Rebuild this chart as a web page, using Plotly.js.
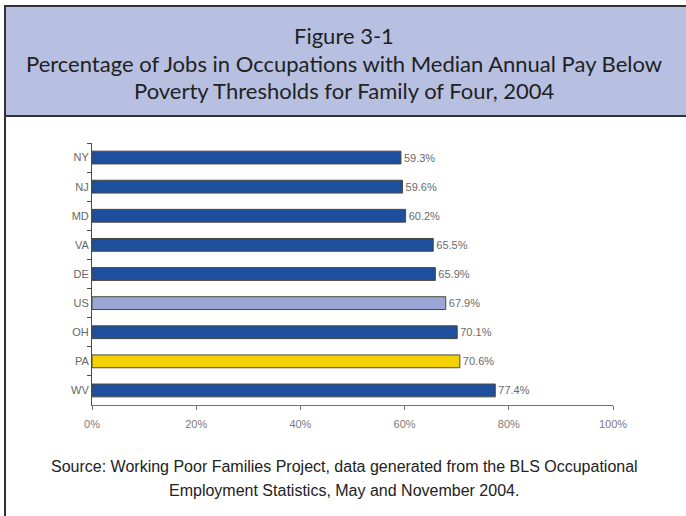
<!DOCTYPE html>
<html>
<head>
<meta charset="utf-8">
<script src="https://cdn.plot.ly/plotly-3.0.1.min.js"></script>
<style>
  html, body { margin: 0; padding: 0; background: #fff; }
  #chart { width: 686px; height: 516px; }
</style>
</head>
<body>
<div id="chart"></div>
<script>
// states, top to bottom
var states = ["NY", "NJ", "MD", "VA", "DE", "US", "OH", "PA", "WV"];
var pctBelow = [59.3, 59.6, 60.2, 65.5, 65.9, 67.9, 70.1, 70.6, 77.4];
var barColors = ["#1d4f9e", "#1d4f9e", "#1d4f9e", "#1d4f9e", "#1d4f9e", "#9ba6d6", "#1d4f9e", "#f6d100", "#1d4f9e"];
var xTicks = [0, 20, 40, 60, 80, 100];
var xTickText = ["0%", "20%", "40%", "60%", "80%", "100%"];

var W = 686, H = 516;
function px(x) { return x / W; }
function py(y) { return 1 - y / H; }

var trace = {
  type: "bar",
  orientation: "h",
  y: states,
  x: pctBelow,
  width: 0.44,
  marker: { color: barColors, line: { color: "#4a4a3a", width: 1 } },
  text: pctBelow.map(v => v.toFixed(1) + "%"),
  textposition: "outside",
  textfont: { family: "Liberation Sans, Arial, sans-serif", size: 11, color: "#6a6a6a" },
  cliponaxis: false,
  hoverinfo: "none"
};

var titleFont = { family: "Lato, sans-serif", size: 22, color: "#222" };
var srcFont = { family: "Liberation Sans Narrow, Arial Narrow, sans-serif", size: 16, color: "#222" };

function note(y, text, font) {
  return { xref: "paper", yref: "paper", x: px(344), y: py(y), xanchor: "center", yanchor: "middle",
    showarrow: false, text: text, font: font };
}

var layout = {
  width: W,
  height: H,
  margin: { l: 0, r: 0, t: 0, b: 0 },
  paper_bgcolor: "#ffffff",
  plot_bgcolor: "rgba(0,0,0,0)",
  showlegend: false,
  xaxis: {
    domain: [px(92), px(613)],
    range: [0, 100],
    tickmode: "array",
    tickvals: xTicks,
    ticktext: xTickText,
    showgrid: false,
    zeroline: false,
    showline: true,
    linecolor: "#6b7570",
    linewidth: 1,
    ticks: "outside",
    ticklen: 4,
    ticklabelstandoff: 5,
    tickcolor: "#6b7570",
    tickfont: { family: "Liberation Sans, Arial, sans-serif", size: 11, color: "#7a7a7a" },
    fixedrange: true
  },
  yaxis: {
    domain: [py(405), py(143)],
    autorange: "reversed",
    type: "category",
    showgrid: false,
    showline: true,
    linecolor: "#4a4a4a",
    linewidth: 1,
    ticks: "outside",
    tickson: "boundaries",
    ticklen: 4,
    tickcolor: "#4a4a4a",
    tickfont: { family: "Liberation Sans, Arial, sans-serif", size: 11, color: "#666" },
    fixedrange: true
  },
  shapes: [
    // header box
    { type: "rect", xref: "paper", yref: "paper", x0: px(5), x1: px(690), y0: py(116), y1: py(6),
      fillcolor: "#b7c0e1", line: { color: "#333", width: 2 }, layer: "below" },
    // left border down the page
    { type: "line", xref: "paper", yref: "paper", x0: px(5), x1: px(5), y0: py(116), y1: py(520),
      line: { color: "#333", width: 2 } }
  ],
  annotations: [
    note(35, "Figure 3-1", titleFont),
    note(63, "Percentage of Jobs in Occupations with Median Annual Pay Below", titleFont),
    note(91, "Poverty Thresholds for Family of Four, 2004", titleFont),
    note(466, "Source: Working Poor Families Project, data generated from the BLS Occupational", srcFont),
    note(490, "Employment Statistics, May and November 2004.", srcFont)
  ]
};

Plotly.newPlot("chart", [trace], layout, { displayModeBar: false, staticPlot: true });
</script>
</body>
</html>
